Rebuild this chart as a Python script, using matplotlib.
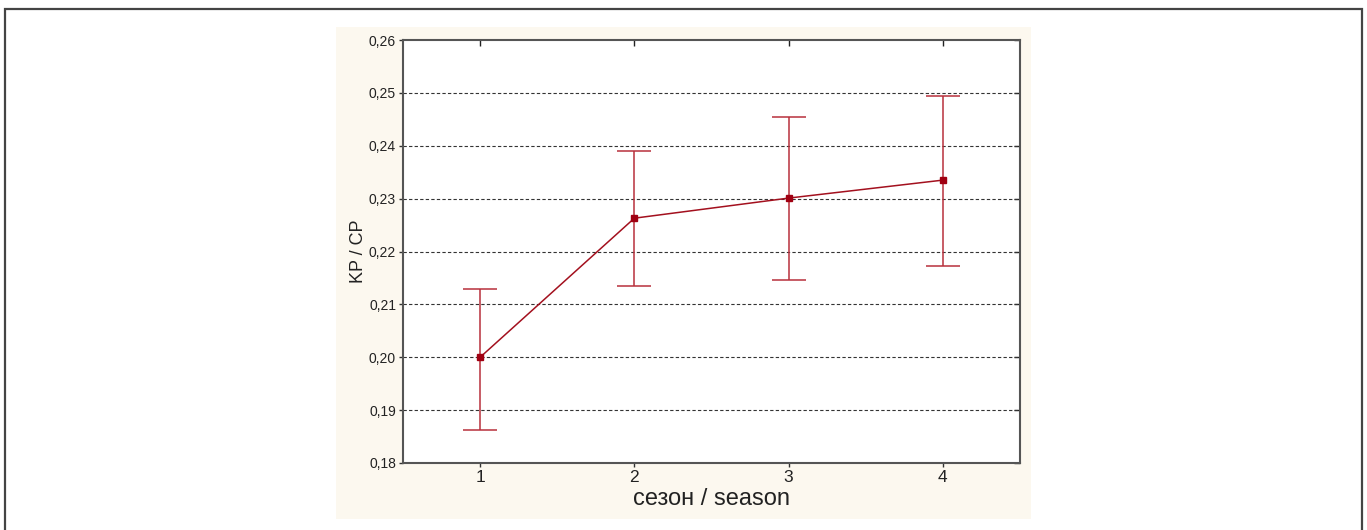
import matplotlib
matplotlib.use("Agg")
import matplotlib.pyplot as plt
from matplotlib.patches import Rectangle

seasons = [1, 2, 3, 4]
means = [0.2000, 0.2263, 0.2301, 0.2335]
upper = [0.2129, 0.2390, 0.2454, 0.2494]
lower = [0.1862, 0.2135, 0.2146, 0.2173]
yticks = [0.18, 0.19, 0.20, 0.21, 0.22, 0.23, 0.24, 0.25, 0.26]
ytick_labels = ["0,18", "0,19", "0,20", "0,21", "0,22", "0,23", "0,24", "0,25", "0,26"]

plt.rcParams['font.family'] = ['Liberation Sans', 'DejaVu Sans']

W, H = 1367, 530
fig = plt.figure(figsize=(W / 100, H / 100), dpi=100)
fig.patch.set_facecolor('white')

# outer frame
fig.patches.append(Rectangle((5 / W, -0.1), 1357 / W, 1 - 9 / H + 0.1,
                             transform=fig.transFigure, fill=False,
                             edgecolor='#444444', linewidth=1.6, zorder=-2))
# cream panel
fig.patches.append(Rectangle((336 / W, 1 - 519 / H), (1031 - 336) / W, (519 - 27) / H,
                             transform=fig.transFigure, facecolor='#fcf8ef',
                             edgecolor='none', zorder=-1))

ax = fig.add_axes([403 / W, 1 - 463 / H, (1020 - 403) / W, (463 - 40) / H])
ax.set_zorder(5)
ax.set_facecolor('white')

err_lo = [m - l for m, l in zip(means, lower)]
err_hi = [u - m for m, u in zip(means, upper)]
ax.errorbar(seasons, means, yerr=[err_lo, err_hi], fmt='none', ecolor='#b8303c',
            elinewidth=1.1, capsize=12, capthick=1.1, zorder=3)
ax.plot(seasons, means, color='#a3101e', linewidth=1.1, marker='s', markersize=5,
        markerfacecolor='#a00012', markeredgecolor='#a00012', zorder=4)

ax.set_xlim(0.5, 4.5)
ax.set_ylim(0.18, 0.26)
ax.set_xticks(seasons)
ax.set_xticklabels([str(s) for s in seasons], fontsize=12.5, color='#222222')
ax.set_yticks(yticks)
ax.set_yticklabels(ytick_labels, fontsize=10, color='#222222')
for y in yticks[1:-1]:
    ax.axhline(y, color='#333333', linestyle=(0, (3, 2)), linewidth=0.8, zorder=1)

ax.tick_params(axis='y', direction='out', length=3, width=1, color='#333333', pad=2)
ax.tick_params(axis='x', direction='out', length=3, width=1, color='#333333', pad=2)
for sp in ax.spines.values():
    sp.set_color('#555555')
    sp.set_linewidth(1.5)

# inward ticks on right and top
secy = ax.secondary_yaxis('right')
secy.set_yticks(yticks)
secy.tick_params(direction='in', length=4, width=1, color='#222222', labelright=False)
secy.spines['right'].set_visible(False)
secx = ax.secondary_xaxis('top')
secx.set_xticks(seasons)
secx.tick_params(direction='in', length=4, width=1, color='#222222', labeltop=False)
secx.spines['top'].set_visible(False)

ax.set_xlabel('сезон / season', fontsize=17, color='#222222', labelpad=2)
ax.set_ylabel('KP / CP', fontsize=13, color='#222222')
ax.yaxis.set_label_coords(-0.058, 0.50)

fig.savefig('out.png', dpi=100, facecolor='white')
